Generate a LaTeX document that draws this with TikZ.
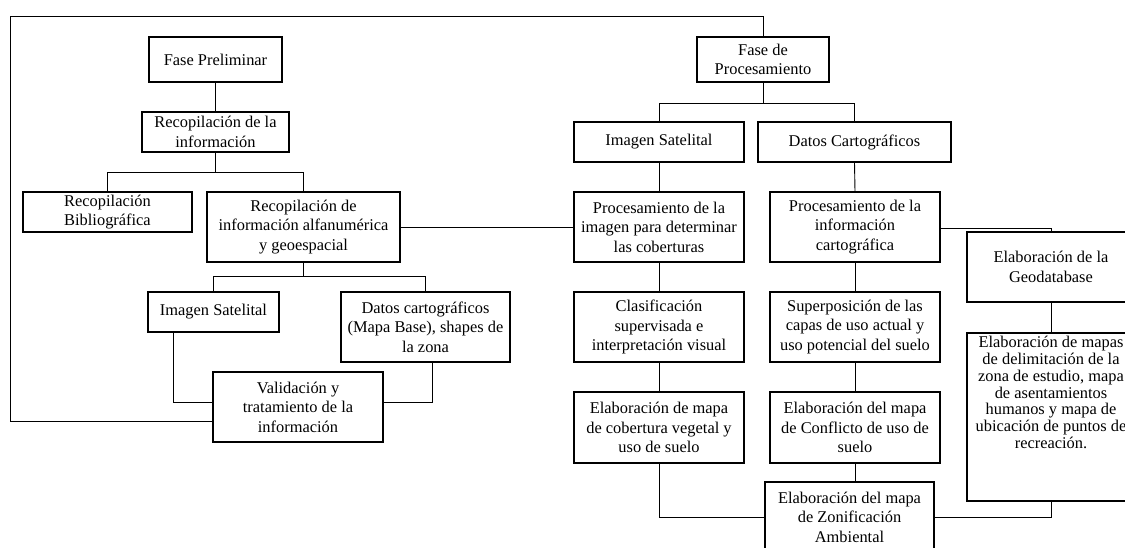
\documentclass[tikz,border=0pt]{standalone}
\usepackage{fontspec}
\setmainfont{Liberation Serif}
\usetikzlibrary{calc}
\tikzset{
  box/.style={draw=black, line width=1.1pt, inner sep=0pt, align=center,
    font=\fontsize{16.4}{19.5}\selectfont},
  plain/.style={inner sep=0pt, align=center, font=\fontsize{16.4}{16.8}\selectfont},
  conn/.style={draw=black, line width=0.9pt},
}
\begin{document}
\begin{tikzpicture}[x=1pt,y=-1pt]
\useasboundingbox (0,0) rectangle (1125,548);
\clip (0,0) rectangle (1125,548);
% left branch
\node[box, minimum width=133pt, minimum height=45pt] (fp) at (215.5,59.5) {Fase Preliminar};
\node[box, minimum width=147pt, minimum height=40pt] (ri) at (215.5,132) {Recopilación de la\\información};
\node[box, minimum width=169pt, minimum height=40pt] (rb) at (107.5,212) {Recopilación\\Bibliográfica};
\node[box, minimum width=193pt, minimum height=70pt] (ra) at (303.5,227) {Recopilación de\\información alfanumérica\\y geoespacial};
\node[box, minimum width=131pt, minimum height=40pt] (is1) at (213.5,312) {Imagen Satelital};
\node[box, minimum width=169pt, minimum height=70pt] (dc1) at (425.5,327) {Datos cartográficos\\(Mapa Base), shapes de\\la zona};
\node[box, minimum width=170pt, minimum height=70pt] (val) at (298,407) {Validación y\\tratamiento de la\\información};
% right branch
\node[box, minimum width=132pt, minimum height=45pt] (fpr) at (763,59.5) {Fase de\\Procesamiento};
\node[box, minimum width=170pt, minimum height=40pt] (is2) at (659,142) {Imagen Satelital};
\node[box, minimum width=193pt, minimum height=40pt] (dc2) at (854.5,142) {Datos Cartográficos};
\node[box, minimum width=170pt, minimum height=70pt] (pi) at (659,227) {Procesamiento de la\\imagen para determinar\\las coberturas};
\node[box, minimum width=170pt, minimum height=70pt] (pc) at (855,227) {Procesamiento de la\\información\\cartográfica};
\node[box, minimum width=170pt, minimum height=70pt] (cl) at (659,327) {Clasificación\\supervisada e\\interpretación visual};
\node[box, minimum width=170pt, minimum height=70pt] (sp) at (855,327) {Superposición de las\\capas de uso actual y\\uso potencial del suelo};
\node[box, minimum width=170pt, minimum height=71pt] (ec) at (659,427.5) {Elaboración de mapa\\de cobertura vegetal y\\uso de suelo};
\node[box, minimum width=170pt, minimum height=71pt] (em) at (855,427.5) {Elaboración del mapa\\de Conflicto de uso de\\suelo};
\node[box, minimum width=169pt, minimum height=70pt] (za) at (849.5,517) {Elaboración del mapa\\de Zonificación\\Ambiental};
\node[box, minimum width=168pt, minimum height=70pt] (gd) at (1051,267) {Elaboración de la\\Geodatabase};
\node[box, minimum width=168pt, minimum height=168pt] (big) at (1051,417) {};
\node[plain, anchor=north] (bigtext) at (1051,336) {Elaboración de mapas\\de delimitación de la\\zona de estudio, mapa\\de asentamientos\\humanos y mapa de\\ubicación de puntos de\\recreación.};
% connectors left
\coordinate (b1) at (215.5,172);
\draw[conn] (fp.south) -- (ri.north);
\draw[conn] (ri.south) -- (b1);
\draw[conn] (rb.north) |- (b1);
\draw[conn] (ra.north) |- (b1);
\coordinate (b2) at (303.5,276);
\coordinate (dcbot) at ($(dc1.south)+(6.5,0)$);
\coordinate (isbot) at ($(is1.south)+(-40.5,0)$);
\draw[conn] (ra.south) -- (b2);
\draw[conn] (is1.north) |- (b2);
\draw[conn] (dc1.north) |- (b2);
\draw[conn] (isbot) |- ($(val.west)+(0,-5)$);
\draw[conn] (dcbot) |- ($(val.east)+(0,-5)$);
\coordinate (loopA) at (10,421);
\coordinate (loopB) at (10,16);
\draw[conn] ($(val.west)+(0,14)$) -- (loopA) -- (loopB) -| (fpr.north);
\draw[conn] (ra.east) -- (pi.west);
% connectors right
\coordinate (b3) at (763,103);
\draw[conn] (fpr.south) -- (b3);
\draw[conn] (is2.north) |- (b3);
\draw[conn] (dc2.north) |- (b3);
\draw[conn] (is2.south) -- (pi.north);
\draw[conn] (pi.south) -- (cl.north);
\draw[conn] (cl.south) -- (ec.north);
\draw[conn] (dc2.south) -- (pc.north);
\draw[conn] (pc.south) -- (sp.north);
\draw[conn] (sp.south) -- (em.north);
\draw[conn] (em.south) -- (em.south |- za.north);
\draw[conn] (ec.south) |- (za.west);
\coordinate (c1) at (1051,228);
\draw[conn] (pc.east |- c1) -- (c1) -- (gd.north);
\draw[conn] (gd.south) -- (big.north);
\coordinate (c2) at (1051,517);
\draw[conn] (za.east) -- (c2) -- (big.south);
\end{tikzpicture}
\end{document}
